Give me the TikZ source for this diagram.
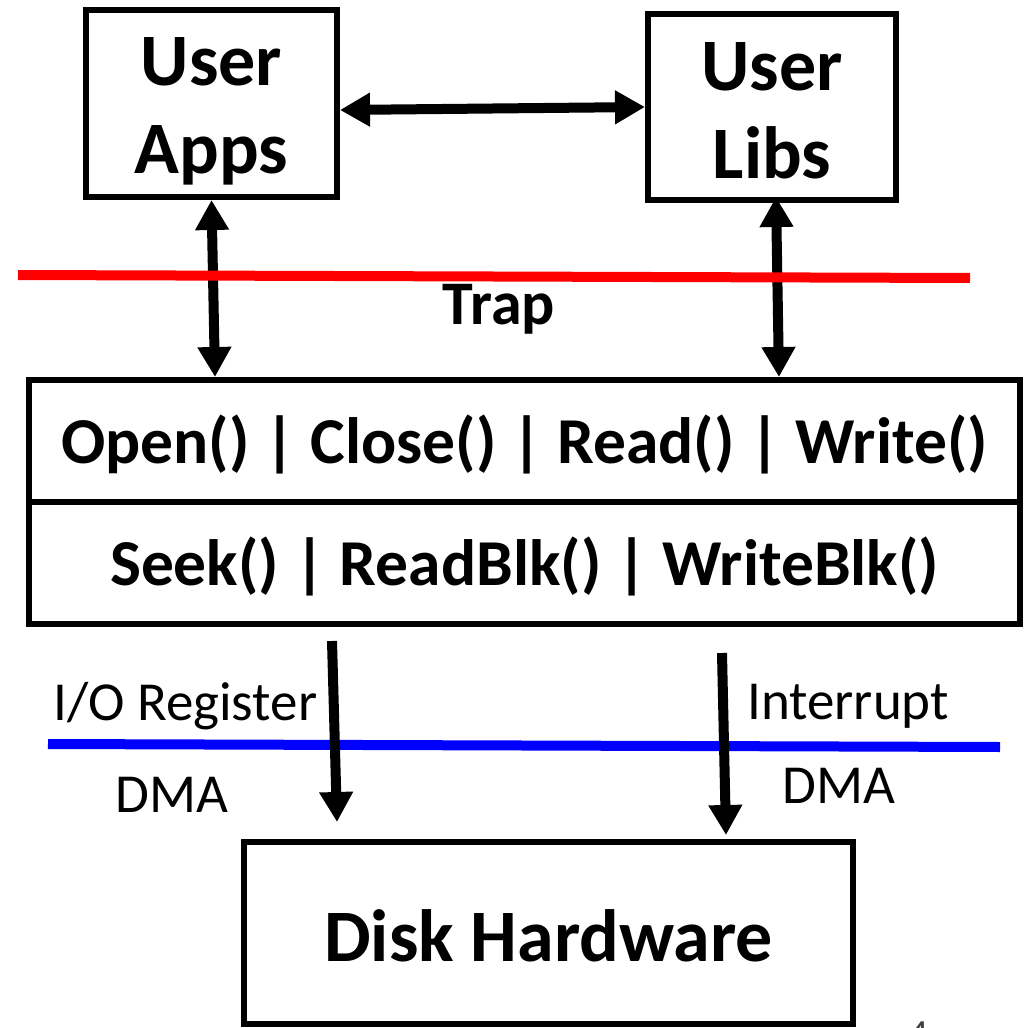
\documentclass[tikz,border=0pt]{standalone}
\usepackage{fontspec}
\setmainfont{Carlito}
\usetikzlibrary{arrows.meta}

\begin{document}
\begin{tikzpicture}[x=1pt,y=-1pt,
  box/.style={draw=black, line width=6pt, inner sep=0pt, align=center},
  boxtitle/.style={font=\fontsize{74}{88}\selectfont\bfseries},
  rowtext/.style={font=\fontsize{65.5}{78}\selectfont\bfseries, text height=44pt, text depth=0pt},
  note/.style={font=\fontsize{55}{66}\selectfont, inner sep=0pt},
  link/.style={line width=10pt, {Triangle[width=32pt,length=30pt]}-{Triangle[width=32pt,length=30pt]}},
  flow/.style={line width=10pt, -{Triangle[width=32pt,length=30pt]}},
  boundary/.style={line width=10pt}
]
\useasboundingbox (0,0) rectangle (1029,1028);

% user-level boxes
\node[box, boxtitle, minimum width=251pt, minimum height=187pt,
      text height=139pt, text depth=0pt] (apps) at (211.5,103.5) {User\\Apps};
\node[box, boxtitle, minimum width=248pt, minimum height=186pt,
      text height=142pt, text depth=0pt] (libs) at (772,107) {User\\Libs};

% system call interface, two rows
\node[box, rowtext, minimum width=991pt, minimum height=122pt] (calls) at (524.5,441)
  {Open() | Close() | Read() | Write()};
\node[box, rowtext, minimum width=991pt, minimum height=122pt] (blocks) at (524.5,563)
  {Seek() | ReadBlk() | WriteBlk()};

% device
\node[box, font=\fontsize{74}{88}\selectfont\bfseries, text height=56pt, text depth=0pt,
      minimum width=609pt, minimum height=182pt] (disk) at (548.5,933) {Disk Hardware};

% labels
\node[font=\fontsize{62}{74}\selectfont\bfseries, anchor=base, inner sep=0pt] (trap) at (499,324) {Trap};
\node[note, anchor=base west] (ioreg) at (53,720) {I/O Register};
\node[note, anchor=base west] (dmaL) at (115,812) {DMA};
\node[note, anchor=base west] (intr) at (747,719) {Interrupt};
\node[note, anchor=base west] (dmaR) at (782,803) {DMA};
\node[font=\fontsize{40}{48}\selectfont, text=black!75, anchor=base, inner sep=0pt] (pagenum) at (919,1047) {4};

% boundary end points and free arrow ends
\coordinate (trapL) at (18,275);
\coordinate (trapR) at (970,278);
\coordinate (busL) at (48,744);
\coordinate (busR) at (1000,747);
\coordinate (ioA) at (332,641);
\coordinate (ioB) at (337,822);
\coordinate (irqA) at (722,653);
\coordinate (irqB) at (726,835);

% hardware boundary
\draw[boundary, blue] (busL) -- (busR);

% connectors
\draw[link] ([yshift=-6.5pt]apps.east) -- (libs.west);
\draw[link] (apps.south) -- ([xshift=-309.5pt]calls.north);
\draw[link] ([xshift=4pt,yshift=6pt]libs.south) -- ([xshift=254.5pt]calls.north);
\draw[flow] (ioA) -- (ioB);
\draw[flow] (irqA) -- (irqB);

% user/kernel boundary
\draw[boundary, red] (trapL) -- (trapR);
\end{tikzpicture}
\end{document}
